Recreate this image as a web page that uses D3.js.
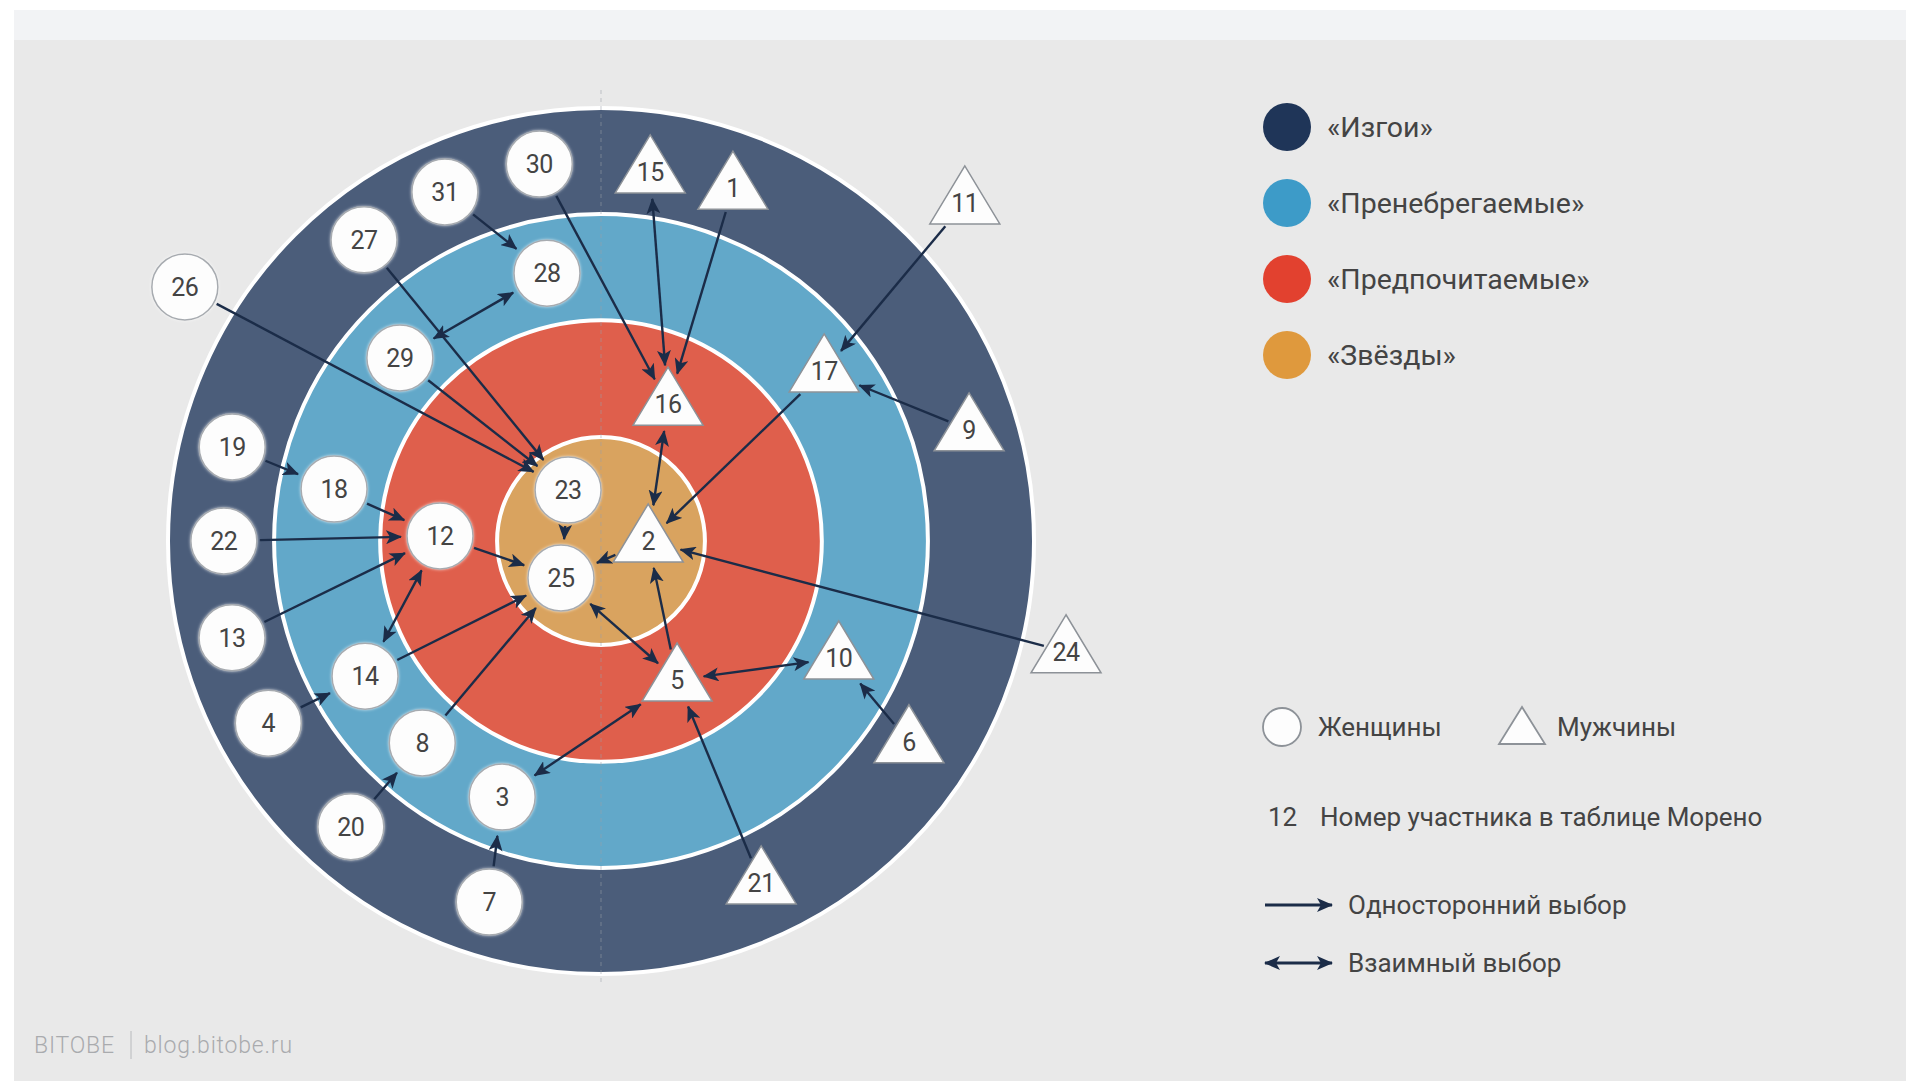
<!DOCTYPE html>
<html><head><meta charset="utf-8">
<script src="https://cdn.jsdelivr.net/npm/d3@7"></script>
<style>body{margin:0;background:#fff;} svg{display:block}</style>
</head><body><svg id="chart" width="1916" height="1087"></svg>
<script>
// ---------- DATA ----------
const categories = ["«Изгои»", "«Пренебрегаемые»", "«Предпочитаемые»", "«Звёзды»"];
// outer edge of each ring, in % of the target radius
const ringEdges = [100, 75.5, 51.0, 24.0];

// participants (Moreno table numbers)
const nodeIds    = [30, 31, 27, 28, 26, 29, 19, 18, 22, 12, 23, 25, 13, 14, 4, 8, 3, 20, 7,
                    15, 1, 11, 17, 16, 9, 2, 24, 10, 5, 6, 21];
const nodeGender = ["f","f","f","f","f","f","f","f","f","f","f","f","f","f","f","f","f","f","f",
                    "m","m","m","m","m","m","m","m","m","m","m","m"];
// angle clockwise from the top (degrees) and distance from the centre (% of target radius)
const nodeAngle  = [-9.3, -24.1, -38.2, -11.4, -58.6, -47.7, -75.7, -79.0, -90.0, -88.2, -32.9, -132.8, -104.7, -119.8, -118.7, -138.5, -158.9, -138.8, -162.8,
                    7.6, 20.5, 47.1, 52.7, 26.1, 73.2, 90.0, 103.4, 116.2, 151.3, 123.1, 154.9];
const nodeDist   = [88.2, 88.3, 88.5, 63.1, 112.6, 62.8, 87.9, 62.8, 87.1, 37.2, 14.0, 12.6, 88.1, 62.8, 87.6, 62.3, 63.4, 87.7, 87.3,
                    86.0, 87.0, 114.7, 64.8, 35.2, 88.8, 10.9, 110.4, 61.2, 36.6, 84.9, 87.2];

// sociometric choices
const choiceFrom   = [31, 29, 27, 30, 15, 1, 11, 9, 17, 16, 26, 29, 19, 18, 22, 13, 12, 14, 8, 12, 23, 2, 25, 5, 5, 21, 5, 24, 6, 4, 20, 7];
const choiceTo     = [28, 28, 23, 16, 16, 16, 17, 17, 2, 2, 23, 23, 18, 12, 12, 12, 14, 25, 25, 25, 25, 25, 5, 10, 3, 5, 2, 2, 10, 14, 8, 3];
const choiceMutual = [0, 1, 0, 0, 1, 0, 0, 0, 0, 1, 0, 0, 0, 0, 0, 0, 1, 0, 0, 0, 0, 0, 1, 1, 1, 0, 0, 0, 0, 0, 0, 0];

const genderLabels = ["Женщины", "Мужчины"];
const numberNote = ["12", "Номер участника в таблице Морено"];
const arrowLabels = ["Односторонний выбор", "Взаимный выбор"];
const footer = ["BITOBE", "blog.bitobe.ru"];

// ---------- STYLE ----------
const ringColors = ["#4b5d7a", "#62a8c9", "#df5f4c", "#d9a35f"];
const legendColors = ["#1f3558", "#3d9bc8", "#e2412f", "#df993d"];
const ink = "#1b2c48";
const textColor = "#444444";
const font = "Roboto, 'Noto Sans', sans-serif";

const svg = d3.select("#chart");
const cx = 601, cy = 541, R = 433;
const rScale = d3.scaleLinear().domain([0, 100]).range([0, R]);
const aScale = d3.scaleLinear().domain([0, 360]).range([0, 2 * Math.PI]);

// background
svg.append("rect").attr("width", 1916).attr("height", 1087).attr("fill", "#fff");
svg.append("rect").attr("x", 14).attr("y", 10).attr("width", 1892).attr("height", 1071).attr("fill", "#f2f3f5");
svg.append("rect").attr("x", 14).attr("y", 40).attr("width", 1892).attr("height", 1041).attr("fill", "#e9e9e9");

// defs
const defs = svg.append("defs");
function marker(id) {
  defs.append("marker").attr("id", id)
    .attr("viewBox", "0 0 16 14").attr("refX", 15).attr("refY", 7)
    .attr("markerWidth", 16).attr("markerHeight", 14)
    .attr("markerUnits", "userSpaceOnUse")
    .attr("orient", "auto-start-reverse")
    .append("path").attr("d", "M0,0 L16,7 L0,14 L4,7 Z").attr("fill", ink);
}
marker("arr");
const glow = defs.append("filter").attr("id", "glow").attr("x", "-30%").attr("y", "-30%").attr("width", "160%").attr("height", "160%");
glow.append("feGaussianBlur").attr("in", "SourceAlpha").attr("stdDeviation", 1.5).attr("result", "b");
glow.append("feFlood").attr("flood-color", "#ffffff").attr("flood-opacity", 0.7);
glow.append("feComposite").attr("in2", "b").attr("operator", "in").attr("result", "g");
const fm = glow.append("feMerge");
fm.append("feMergeNode").attr("in", "g");
fm.append("feMergeNode").attr("in", "SourceGraphic");

// rings
svg.append("g").selectAll("circle").data(ringEdges).join("circle")
  .attr("cx", cx).attr("cy", cy).attr("r", d => rScale(d))
  .attr("fill", (d, i) => ringColors[i]).attr("stroke", "#fff").attr("stroke-width", 4);

// dashed axis
svg.append("line").attr("x1", cx).attr("x2", cx).attr("y1", 90).attr("y2", 986)
  .attr("stroke", "#9aa0a8").attr("stroke-width", 1.2).attr("stroke-dasharray", "4,4").attr("opacity", 0.45);

// nodes
const nodes = nodeIds.map((id, i) => {
  const a = aScale(nodeAngle[i]), r = rScale(nodeDist[i]);
  return { id, gender: nodeGender[i], x: cx + r * Math.sin(a), y: cy - r * Math.cos(a) };
});
const byId = new Map(nodes.map(n => [n.id, n]));
const circleR = 33;
const tri = [[0, -37], [-35, 21], [35, 21]];

function boundary(n, ux, uy) {
  if (n.gender === "f") return circleR;
  let best = Infinity;
  for (let k = 0; k < 3; k++) {
    const p1 = tri[k], p2 = tri[(k + 1) % 3];
    const ex = p2[0] - p1[0], ey = p2[1] - p1[1];
    const det = -ux * ey + ex * uy;
    if (Math.abs(det) < 1e-9) continue;
    const t = (-p1[0] * ey + ex * p1[1]) / det;
    const s = (ux * p1[1] - uy * p1[0]) / det;
    if (t > 0 && s >= 0 && s <= 1) best = Math.min(best, t);
  }
  return best;
}

// edges
const edges = choiceFrom.map((f, i) => ({ s: byId.get(f), t: byId.get(choiceTo[i]), mutual: choiceMutual[i] }));
svg.append("g").selectAll("line").data(edges).join("line")
  .each(function (d) {
    const dx = d.t.x - d.s.x, dy = d.t.y - d.s.y, L = Math.hypot(dx, dy);
    const ux = dx / L, uy = dy / L;
    const a = boundary(d.s, ux, uy) + (d.mutual ? 6 : 3);
    const b = boundary(d.t, -ux, -uy) + 6;
    d3.select(this)
      .attr("x1", d.s.x + ux * a).attr("y1", d.s.y + uy * a)
      .attr("x2", d.t.x - ux * b).attr("y2", d.t.y - uy * b);
  })
  .attr("stroke", ink).attr("stroke-width", 2.4)
  .attr("marker-end", "url(#arr)")
  .attr("marker-start", d => d.mutual ? "url(#arr)" : null);

// node shapes
const ng = svg.append("g").selectAll("g").data(nodes).join("g")
  .attr("transform", d => `translate(${d.x},${d.y})`);
ng.filter(d => d.gender === "f").append("circle").attr("r", circleR)
  .attr("fill", "#fdfdfd").attr("stroke", "#a7abb0").attr("stroke-width", 1.5).attr("filter", "url(#glow)");
ng.filter(d => d.gender === "m").append("path")
  .attr("d", "M" + tri.map(p => p.join(",")).join("L") + "Z")
  .attr("fill", "#fdfdfd").attr("stroke", "#8d9298").attr("stroke-width", 1.5).attr("stroke-linejoin", "miter");
ng.append("text").text(d => d.id)
  .attr("text-anchor", "middle").attr("dy", "0.36em")
  .attr("font-family", font).attr("font-size", 25).attr("fill", textColor)
  .attr("letter-spacing", -0.5);

// legend: categories
const lg = svg.append("g").selectAll("g").data(categories).join("g")
  .attr("transform", (d, i) => `translate(1287,${127 + i * 76})`);
lg.append("circle").attr("r", 24).attr("fill", (d, i) => legendColors[i]);
lg.append("text").text(d => d).attr("x", 40).attr("dy", "0.36em")
  .attr("font-family", font).attr("font-size", 28.5).attr("fill", textColor);

// legend: shapes
const lfs = 26;
const lg2 = svg.append("g");
lg2.append("circle").attr("cx", 1282).attr("cy", 727).attr("r", 19)
  .attr("fill", "#fdfdfd").attr("stroke", "#8d9298").attr("stroke-width", 1.8);
lg2.append("text").text(genderLabels[0]).attr("x", 1318).attr("y", 727).attr("dy", "0.36em")
  .attr("font-family", font).attr("font-size", lfs).attr("fill", textColor);
lg2.append("path").attr("d", "M1522,707 L1499,744 L1545,744 Z")
  .attr("fill", "#fdfdfd").attr("stroke", "#8d9298").attr("stroke-width", 1.8);
lg2.append("text").text(genderLabels[1]).attr("x", 1557).attr("y", 727).attr("dy", "0.36em")
  .attr("font-family", font).attr("font-size", lfs).attr("fill", textColor);
lg2.append("text").text(numberNote[0]).attr("x", 1268).attr("y", 817).attr("dy", "0.36em")
  .attr("font-family", font).attr("font-size", lfs).attr("fill", textColor);
lg2.append("text").text(numberNote[1]).attr("x", 1320).attr("y", 817).attr("dy", "0.36em")
  .attr("font-family", font).attr("font-size", lfs).attr("fill", textColor);
arrowLabels.forEach((t, i) => {
  const y = 905 + i * 58;
  lg2.append("line").attr("x1", 1265).attr("x2", 1332).attr("y1", y).attr("y2", y)
    .attr("stroke", ink).attr("stroke-width", 2.8)
    .attr("marker-end", "url(#arr)").attr("marker-start", i === 1 ? "url(#arr)" : null);
  lg2.append("text").text(t).attr("x", 1348).attr("y", y).attr("dy", "0.36em")
    .attr("font-family", font).attr("font-size", lfs).attr("fill", textColor);
});

// footer
const ft = svg.append("g").attr("font-family", font).attr("font-size", 23).attr("font-weight", 300)
  .attr("fill", "#a9abae").attr("letter-spacing", 0.8);
ft.append("text").text(footer[0]).attr("x", 34).attr("y", 1045).attr("dy", "0.36em");
ft.append("line").attr("x1", 131).attr("x2", 131).attr("y1", 1031).attr("y2", 1059).attr("stroke", "#b8babd").attr("stroke-width", 1);
ft.append("text").text(footer[1]).attr("x", 144).attr("y", 1045).attr("dy", "0.36em");
</script></body></html>
